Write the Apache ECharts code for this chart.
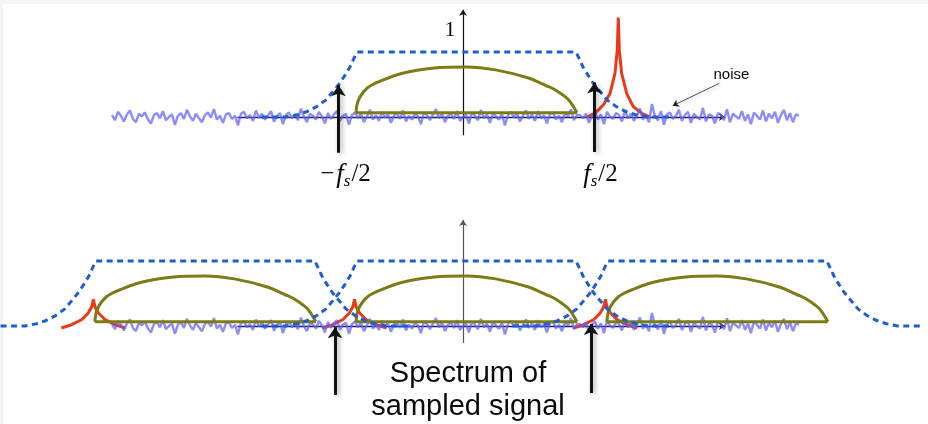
<!DOCTYPE html>
<html>
<head>
<meta charset="utf-8">
<script src="https://cdn.jsdelivr.net/npm/echarts@6/dist/echarts.min.js"></script>
<style>html,body{margin:0;padding:0;background:#fff;}#c{width:928px;height:424px;}</style>
</head>
<body>
<div id="c"></div>
<script>
// ---- data (frequency in units of fs/2, gain relative to passband = 1) ----
const filterProfileF = [0, 0.855, 0.88, 0.91, 0.95, 0.99, 1.04, 1.10, 1.17, 1.25, 1.32, 1.41, 1.6];
const filterProfileG = [1, 1, 0.90, 0.77, 0.64, 0.52, 0.40, 0.26, 0.16, 0.08, 0.035, 0, 0];

const oliveF = [-0.863, -0.855, -0.832, -0.773, -0.688, -0.508, -0.250, 0, 0.227, 0.484, 0.625, 0.695, 0.797, 0.863];
const oliveG = [0.065, 0.19, 0.31, 0.45, 0.54, 0.67, 0.755, 0.77, 0.725, 0.60, 0.48, 0.415, 0.265, 0.065];
const oliveBase = 0.065;

const spikeTopF = [0.939, 1.004, 1.069, 1.121, 1.160, 1.178, 1.186, 1.194, 1.212, 1.252, 1.303, 1.369, 1.434];
const spikeTopG = [0, 0.06, 0.185, 0.36, 0.67, 1.03, 1.53, 1.03, 0.67, 0.36, 0.16, 0.057, 0];

const aliasOffset = -0.875;
const aliasProfileF = [-0.25, -0.17, -0.09, -0.04, -0.012, 0, 0.012, 0.04, 0.09, 0.17, 0.25];
const aliasProfileG = [-0.03, 0.02, 0.10, 0.20, 0.30, 0.41, 0.30, 0.20, 0.10, 0.02, -0.03];

const copyCenters = [-2.04, 0, 1.96];

const noiseF0 = -2.77, noiseStep = 0.0234375;
const noise = [
0.03,-0.05,0.08,0.02,-0.07,0.04,0.10,-0.03,-0.08,0.05,
0.01,0.07,-0.04,-0.10,0.03,0.06,-0.02,0.09,-0.05,0.00,
0.04,-0.12,0.02,0.06,-0.03,0.11,0.01,-0.06,0.05,-0.02,
-0.08,0.03,0.07,-0.01,0.12,-0.04,0.02,-0.09,0.04,0.06,
-0.03,0.02,-0.13,0.05,0.08,-0.02,0.03,-0.06,0.10,-0.01,
0.05,-0.04,0.02,0.09,-0.07,0.01,0.06,-0.11,0.03,0.07,
-0.02,0.04,-0.05,0.13,0.00,-0.08,0.05,0.02,-0.04,0.08,
0.01,-0.10,0.06,-0.03,0.04,0.09,-0.06,0.02,0.05,-0.12,
0.03,0.07,-0.02,0.05,-0.08,0.01,0.11,-0.04,0.03,-0.06,
0.08,-0.01,0.04,-0.09,0.02,0.06,-0.03,0.10,-0.07,0.02,
-0.04,0.05,0.01,-0.11,0.07,0.03,-0.05,0.04,0.12,-0.02,
0.06,-0.08,0.02,0.05,-0.03,0.09,-0.06,0.00,0.04,-0.10,
0.07,0.02,-0.05,0.11,-0.02,0.04,-0.09,0.06,0.01,-0.04,
0.05,-0.13,0.03,0.08,-0.01,0.06,-0.07,0.02,0.10,-0.03,
0.04,-0.06,0.09,-0.02,0.03,-0.10,0.05,0.07,-0.04,0.02,
-0.08,0.06,0.01,0.12,-0.05,0.03,0.03,-0.02,0.05,-0.09,
0.02,0.07,-0.04,0.04,-0.11,0.08,0.01,-0.03,0.06,0.03,
-0.07,0.10,-0.02,0.05,-0.06,0.02,0.13,-0.04,0.03,-0.08,
0.20,0.01,-0.05,0.09,-0.12,0.04,0.07,-0.03,0.02,0.11,
-0.06,0.03,0.08,-0.09,0.05,0.00,-0.04,0.14,-0.07,0.04,
0.02,-0.10,0.06,0.03,-0.05,0.12,-0.08,0.05,0.01,-0.03,
0.09,-0.06,0.04,-0.11,0.07,0.02,-0.04,0.10,-0.07,0.05,
-0.02,0.08,-0.09,0.03,0.11,-0.05,0.06,-0.08,0.04,0.02
];

// axes / arrows (f, g endpoints)
const topHAxis = [[-1.79, 0], [2.02, 0]];
const topVAxis = [[-0.027, -0.28], [-0.027, 1.65]];
const botHAxis = [[-1.79, 0], [2.02, 0]];
const botVAxis = [[-0.027, -0.26], [-0.027, 1.63]];
const topArrows = [[[-1.0, -0.55], [-1.0, 0.49]], [[1.0, -0.54], [1.0, 0.53]]];
const botArrows = [[[-1.027, -1.06], [-1.027, -0.02]], [[0.973, -1.03], [0.973, 0.03]]];
const noisePointer = [[1.975, 0.518], [1.611, 0.174]];

const topLabels = [
  {pos: [-0.129, 1.338], text: '{one|1}'},
  {pos: [-0.945, -0.89], text: '{m|\u2212}{f|f}{s|s}{n|/2}'},
  {pos: [1.047, -0.89], text: '{f|f}{s|s}{n|/2}'},
  {pos: [2.07, 0.646], text: '{nz|noise}'}
];
const botLabels = [
  {pos: [0.012, -0.985], text: '{sp|Spectrum of}\n{sp|sampled signal}'}
];

// ---- build ----
const SERIF = 'Liberation Serif';
function filterCurve(c) {
  const pts = [];
  for (let i = filterProfileF.length - 1; i >= 1; i--) pts.push([c - filterProfileF[i], filterProfileG[i]]);
  for (let i = 1; i < filterProfileF.length; i++) pts.push([c + filterProfileF[i], filterProfileG[i]]);
  return pts;
}
function oliveArc(c) { return oliveF.map((f, i) => [c + f, oliveG[i]]); }
function oliveLine(c) { return [[c + oliveF[0], oliveBase], [c + oliveF[oliveF.length - 1], oliveBase]]; }
const noiseData = noise.map((v, i) => [noiseF0 + i * noiseStep, v]);

const dashStyle = {color: '#1d5fd0', width: 3, type: [6, 4.5]};
const oliveStyle = {color: '#7c7c16', width: 3};
const redStyle = {color: '#ea3a1c', width: 3};
const noiseStyle = {color: 'rgba(95,95,255,0.72)', width: 2.4};

function lineSeries(grid, data, style, z, smooth) {
  return {type: 'line', xAxisIndex: grid, yAxisIndex: grid, data: data, symbol: 'none', showSymbol: false,
    lineStyle: style, z: z, smooth: smooth || false, silent: true, clip: false, animation: false};
}
function linesSeries(grid, segs, style, arrowSize, z, shadow) {
  const ls = Object.assign({}, style);
  if (shadow) { ls.shadowBlur = 5; ls.shadowColor = 'rgba(0,0,0,0.35)'; ls.shadowOffsetX = 2; ls.shadowOffsetY = 1; }
  return {type: 'lines', coordinateSystem: 'cartesian2d', xAxisIndex: grid, yAxisIndex: grid,
    symbol: ['none', 'arrow'], symbolSize: arrowSize, lineStyle: Object.assign({opacity: 1, curveness: 0}, ls),
    data: segs.map(s => ({coords: s})), z: z, silent: true, animation: false};
}
const TXT = '#0a0a0a';
const richStyles = {
  one: {fontFamily: SERIF, fontSize: 22, lineHeight: 26, color: TXT},
  m: {fontFamily: SERIF, fontSize: 25, lineHeight: 30, color: TXT, padding: [0, 2, 0, 0]},
  f: {fontFamily: SERIF, fontStyle: 'italic', fontSize: 27, lineHeight: 30, color: TXT},
  s: {fontFamily: SERIF, fontStyle: 'italic', fontSize: 17, lineHeight: 14, verticalAlign: 'bottom', color: TXT, padding: [0, 1, 0, 0]},
  n: {fontFamily: SERIF, fontSize: 25, lineHeight: 30, color: TXT},
  nz: {fontFamily: 'Liberation Sans', fontSize: 15, lineHeight: 18, color: TXT},
  sp: {fontFamily: 'Liberation Sans', fontSize: 29, lineHeight: 33, color: TXT}
};
function labelSeries(grid, labels) {
  return {type: 'scatter', xAxisIndex: grid, yAxisIndex: grid, symbol: 'circle', symbolSize: 0.5, silent: true, z: 10, animation: false,
    itemStyle: {color: '#ffffff', opacity: 1},
    data: labels.map(l => ({value: l.pos, text: l.text})),
    label: {show: true, position: 'inside', formatter: p => p.data.text, rich: richStyles, color: TXT,
      textBorderWidth: 0, textShadowBlur: 0, opacity: 1, align: 'center', verticalAlign: 'middle'}};
}

const series = [];
// top panel (grid 0)
series.push(linesSeries(0, [topHAxis], {color: '#1e1e48', width: 1.4}, 6, 1, false));
series.push(linesSeries(0, [topVAxis], {color: '#111', width: 1.2}, 6, 1, false));
series.push(lineSeries(0, spikeTopF.map((f, i) => [f, spikeTopG[i]]), redStyle, 2, false));
series.push(lineSeries(0, noiseData, noiseStyle, 3, false));
series.push(lineSeries(0, oliveArc(0), oliveStyle, 4, 0.3));
series.push(lineSeries(0, oliveLine(0), oliveStyle, 4, false));
series.push(lineSeries(0, filterCurve(0), dashStyle, 5, false));
series.push(linesSeries(0, topArrows, {color: '#111', width: 3}, [9, 11], 6, true));
series.push(linesSeries(0, [noisePointer], {color: '#222', width: 0.8}, [5, 6], 6, true));
series.push(labelSeries(0, topLabels));
// bottom panel (grid 1)
series.push(linesSeries(1, [botHAxis], {color: '#1e1e48', width: 1.4}, 6, 1, false));
series.push(linesSeries(1, [botVAxis], {color: '#555', width: 1.2}, 6, 1, false));
copyCenters.forEach(c => {
  series.push(lineSeries(1, aliasProfileF.map((f, i) => [c + aliasOffset + f, aliasProfileG[i]]), redStyle, 2, false));
});
series.push(lineSeries(1, noiseData, noiseStyle, 3, false));
copyCenters.forEach(c => {
  series.push(lineSeries(1, oliveArc(c), oliveStyle, 4, 0.3));
  series.push(lineSeries(1, oliveLine(c), oliveStyle, 4, false));
  series.push(lineSeries(1, filterCurve(c), dashStyle, 5, false));
});
series.push(linesSeries(1, botArrows, {color: '#111', width: 3}, [9, 11], 6, true));
series.push(labelSeries(1, botLabels));

const chart = echarts.init(document.getElementById('c'), null, {renderer: 'canvas'});
chart.setOption({
  animation: false,
  backgroundColor: '#fff',
  graphic: [
    {type: 'rect', shape: {x: 0, y: 0, width: 928, height: 4}, style: {fill: '#f4f4f4'}, z: -10, silent: true},
    {type: 'rect', shape: {x: 0, y: 0, width: 3, height: 424}, style: {fill: '#f4f4f4'}, z: -10, silent: true}
  ],
  grid: [
    {left: 0, right: 0, top: 0, height: 208},
    {left: 0, right: 0, top: 209, height: 215}
  ],
  xAxis: [
    {type: 'value', gridIndex: 0, min: -3.6445, max: 3.6055, show: false},
    {type: 'value', gridIndex: 1, min: -3.6445, max: 3.6055, show: false}
  ],
  yAxis: [
    {type: 'value', gridIndex: 0, min: -1.4, max: 1.8, show: false},
    {type: 'value', gridIndex: 1, min: -1.5077, max: 1.8, show: false}
  ],
  series: series
});
</script>
</body>
</html>
